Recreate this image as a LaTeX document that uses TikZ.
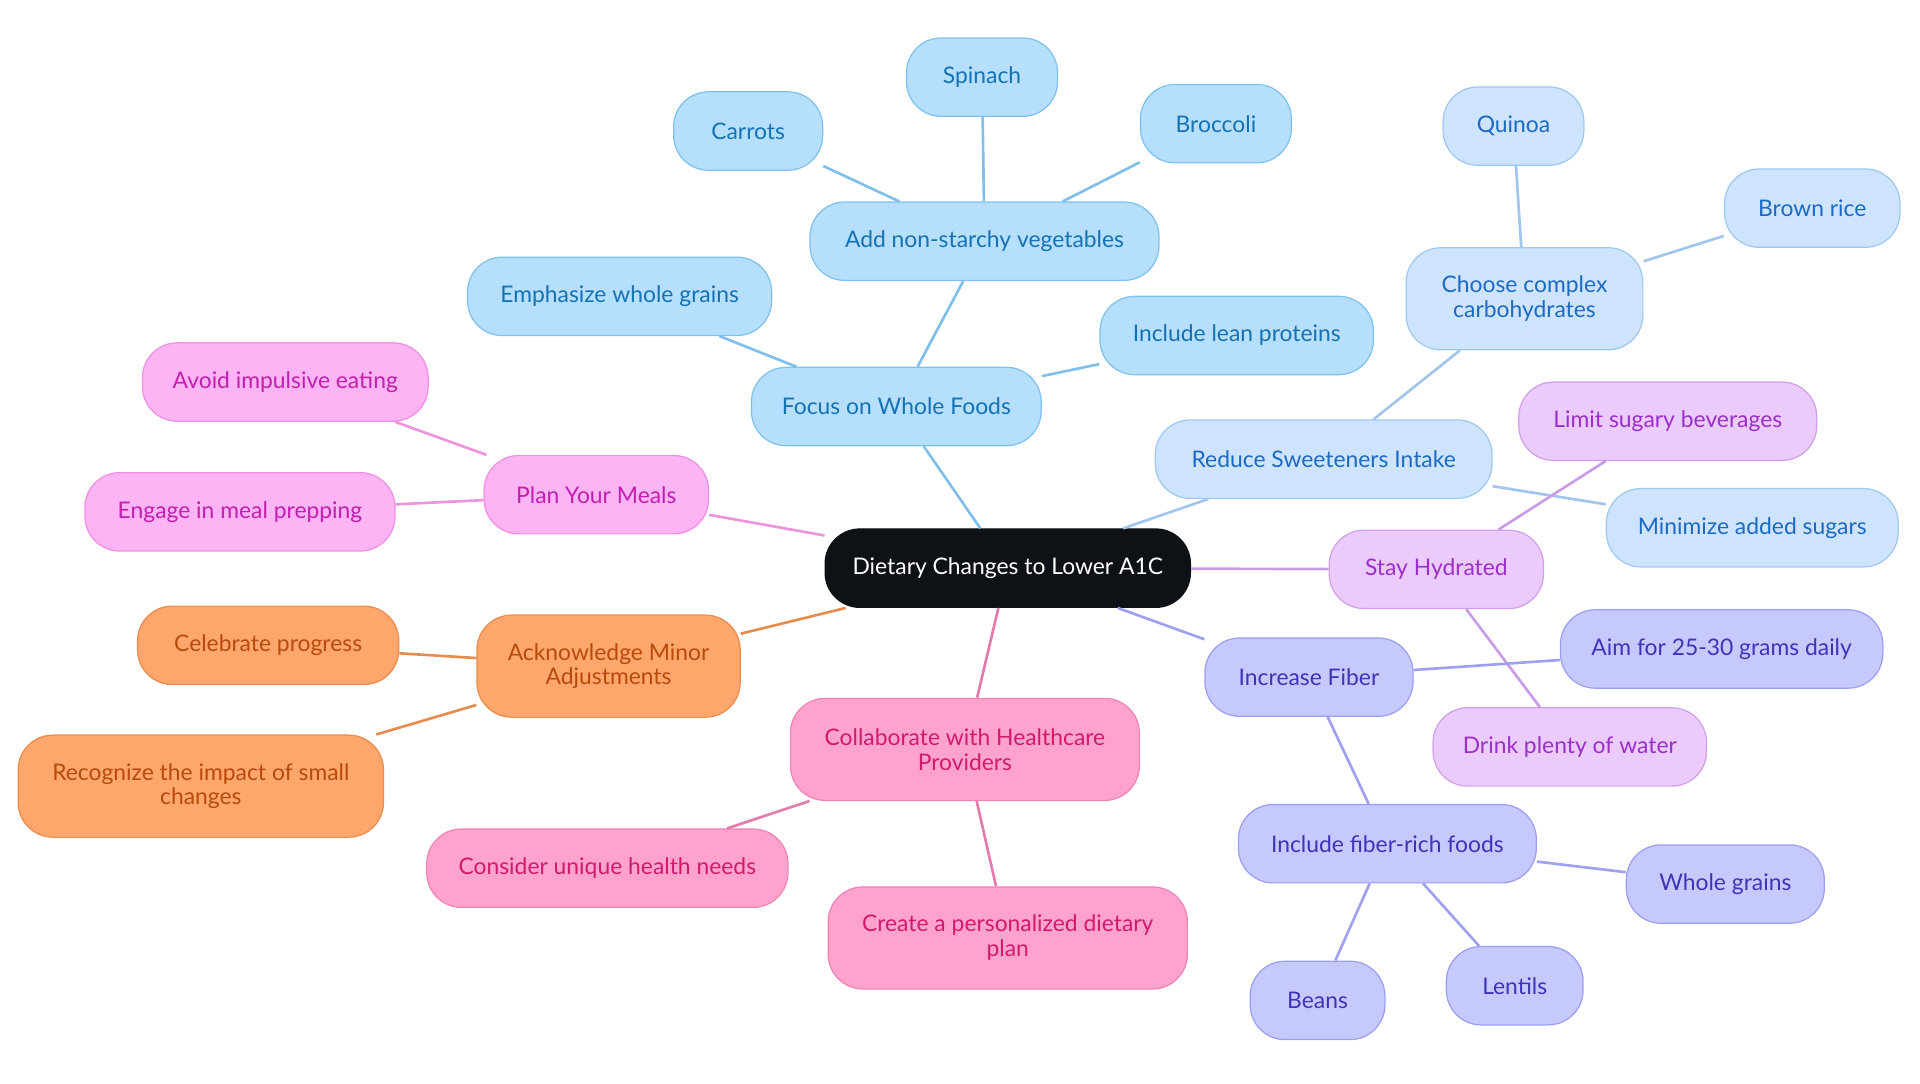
\documentclass[tikz,border=0pt]{standalone}
\usepackage{fontspec}
\setmainfont{Lato}
\usepackage{xcolor}
\usepackage{tikz}
\usetikzlibrary{positioning}

\definecolor{rootF}{HTML}{0E1217}
\definecolor{blueF}{HTML}{B5DFFC}\definecolor{blueD}{HTML}{7EC1EE}\definecolor{blueT}{HTML}{1472B5}\definecolor{blueE}{HTML}{80BFEA}
\definecolor{skyF}{HTML}{CDE4FC}\definecolor{skyD}{HTML}{9EC8F0}\definecolor{skyT}{HTML}{1D6AC4}\definecolor{skyE}{HTML}{A0C6EE}
\definecolor{lilacF}{HTML}{EBCAFC}\definecolor{lilacD}{HTML}{D39EEB}\definecolor{lilacT}{HTML}{9A30C8}\definecolor{lilacE}{HTML}{C99CE8}
\definecolor{periF}{HTML}{C6C9FD}\definecolor{periD}{HTML}{9B9FF2}\definecolor{periT}{HTML}{3C35B8}\definecolor{periE}{HTML}{9EA1F0}
\definecolor{roseF}{HTML}{FFA3CE}\definecolor{roseD}{HTML}{F084B6}\definecolor{roseT}{HTML}{D11A6E}\definecolor{roseE}{HTML}{E37CAE}
\definecolor{orangeF}{HTML}{FEA76C}\definecolor{orangeD}{HTML}{EB8C4E}\definecolor{orangeT}{HTML}{B84B0B}\definecolor{orangeE}{HTML}{E68D4E}
\definecolor{pinkF}{HTML}{FCB4F4}\definecolor{pinkD}{HTML}{F08FE4}\definecolor{pinkT}{HTML}{C21FAE}\definecolor{pinkE}{HTML}{EE93DE}

\begin{document}
\begin{tikzpicture}[x=0.6pt, y=-0.6pt, semithick,
  box/.style={rectangle, rounded corners=17pt, inner sep=0pt, minimum height=38.4pt,
    align=center, line width=0.6pt, font=\fontsize{11.2}{12.2}\selectfont},
  tall/.style={minimum height=50pt},
  root/.style={box, fill=rootF, draw=rootF, text=white},
  blue/.style={box, fill=blueF, draw=blueD, text=blueT},
  sky/.style={box, fill=skyF, draw=skyD, text=skyT},
  lilac/.style={box, fill=lilacF, draw=lilacD, text=lilacT},
  peri/.style={box, fill=periF, draw=periD, text=periT},
  rose/.style={box, fill=roseF, draw=roseD, text=roseT},
  orange/.style={box, fill=orangeF, draw=orangeD, text=orangeT},
  pink/.style={box, fill=pinkF, draw=pinkD, text=pinkT},
  link/.style={line width=1.3pt}]
\useasboundingbox (0,0) rectangle (1568,884.5);

\node[root, minimum width=179pt] (a1c) at (823,464) {Dietary Changes to Lower A1C};

% whole foods
\node[blue, minimum width=142pt] (whole) at (732,332) {Focus on Whole Foods};
\node[blue, minimum width=171pt] (veg) at (804,197) {Add non-starchy vegetables};
\node[blue, minimum width=73pt] (carrots) at (611,107) {Carrots};
\node[blue, minimum width=74pt] (spinach) at (802,63) {Spinach};
\node[blue, minimum width=74pt] (broccoli) at (993,101) {Broccoli};
\node[blue, minimum width=149pt] (grains) at (506,242) {Emphasize whole grains};
\node[blue, minimum width=134pt] (protein) at (1010,274) {Include lean proteins};

% sweeteners
\node[sky, minimum width=165pt] (sweet) at (1081,375) {Reduce Sweeteners Intake};
\node[sky, tall, minimum width=116pt] (carbs) at (1245,244) {Choose complex\\carbohydrates};
\node[sky, minimum width=69pt] (quinoa) at (1236,103) {Quinoa};
\node[sky, minimum width=86pt] (rice) at (1480,170) {Brown rice};
\node[sky, minimum width=143pt] (sugars) at (1431,431) {Minimize added sugars};

% hydration
\node[lilac, minimum width=105pt] (hydr) at (1173,465) {Stay Hydrated};
\node[lilac, minimum width=146pt] (bev) at (1362,344) {Limit sugary beverages};
\node[lilac, minimum width=134pt] (water) at (1282,610) {Drink plenty of water};

% fiber
\node[peri, minimum width=102pt] (fiber) at (1069,553) {Increase Fiber};
\node[peri, minimum width=158pt] (aim) at (1406,530) {Aim for 25-30 grams daily};
\node[peri, minimum width=146pt] (rich) at (1133,689) {Include fiber-rich foods};
\node[peri, minimum width=97pt] (wgrains) at (1409,722) {Whole grains};
\node[peri, minimum width=67pt] (lentils) at (1237,805) {Lentils};
\node[peri, minimum width=66pt] (beans) at (1076,817) {Beans};

% healthcare
\node[rose, tall, minimum width=171pt] (collab) at (788,612) {Collaborate with Healthcare\\Providers};
\node[rose, minimum width=177pt] (needs) at (496,709) {Consider unique health needs};
\node[rose, tall, minimum width=176pt] (diet) at (823,766) {Create a personalized dietary\\plan};

% adjustments
\node[orange, tall, minimum width=129pt] (adjust) at (497,544) {Acknowledge Minor\\Adjustments};
\node[orange, minimum width=128pt] (celeb) at (219,527) {Celebrate progress};
\node[orange, tall, minimum width=179pt] (impact) at (164,642) {Recognize the impact of small\\changes};

% meals
\node[pink, minimum width=110pt] (meals) at (487,404) {Plan Your Meals};
\node[pink, minimum width=140pt] (impulse) at (233,312) {Avoid impulsive eating};
\node[pink, minimum width=152pt] (prep) at (196,418) {Engage in meal prepping};

\path[link]
(a1c) edge[blueE] (whole)
(whole) edge[blueE] (veg)
(whole) edge[blueE] (grains)
(whole) edge[blueE] (protein)
(veg) edge[blueE] (carrots)
(veg) edge[blueE] (spinach)
(veg) edge[blueE] (broccoli)

(a1c) edge[skyE] (sweet)
(sweet) edge[skyE] (carbs)
(sweet) edge[skyE] (sugars)
(carbs) edge[skyE] (quinoa)
(carbs) edge[skyE] (rice)

(a1c) edge[lilacE] (hydr)
(hydr) edge[lilacE] (bev)
(hydr) edge[lilacE] (water)

(a1c) edge[periE] (fiber)
(fiber) edge[periE] (aim)
(fiber) edge[periE] (rich)
(rich) edge[periE] (wgrains)
(rich) edge[periE] (lentils)
(rich) edge[periE] (beans)

(a1c) edge[roseE] (collab)
(collab) edge[roseE] (needs)
(collab) edge[roseE] (diet)

(a1c) edge[orangeE] (adjust)
(adjust) edge[orangeE] (celeb)
(adjust) edge[orangeE] (impact)

(a1c) edge[pinkE] (meals)
(meals) edge[pinkE] (impulse)
(meals) edge[pinkE] (prep);
\end{tikzpicture}
\end{document}
